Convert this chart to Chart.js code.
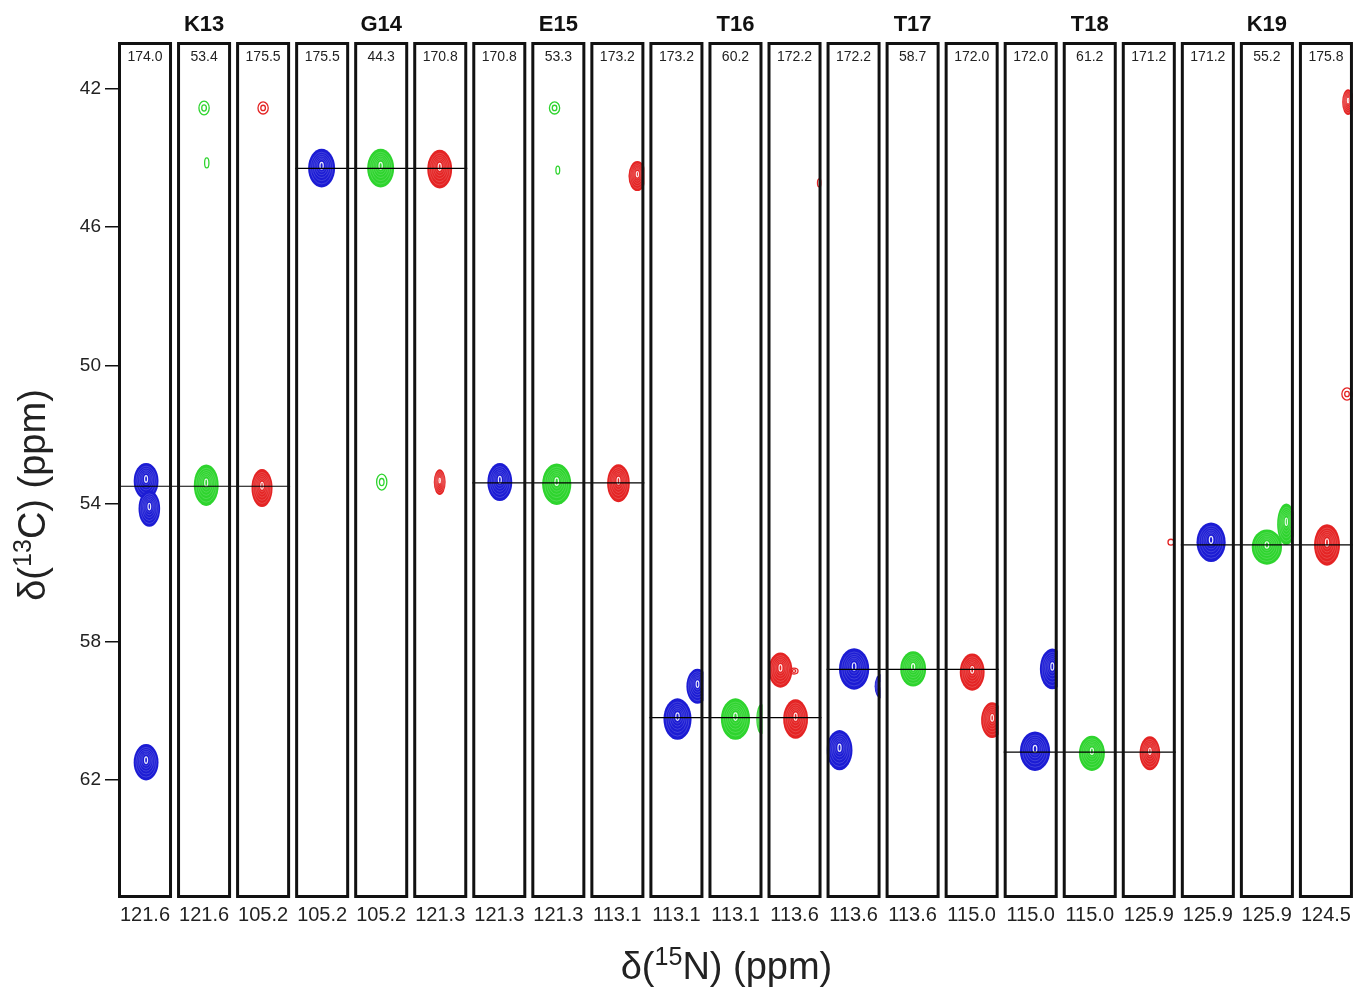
<!DOCTYPE html>
<html>
<head>
<meta charset="utf-8">
<script src="https://cdn.jsdelivr.net/npm/chart.js@4.4.0/dist/chart.umd.min.js"></script>
<style>
  body { margin: 0; background: #fff; }
  #wrap { width: 1356px; height: 990px; position: relative; }
</style>
</head>
<body>
<div id="wrap"><canvas id="strips"></canvas></div>
<script>
const residues = ['K13', 'G14', 'E15', 'T16', 'T17', 'T18', 'K19'];
const caLabels = ['174.0', '53.4', '175.5', '175.5', '44.3', '170.8', '170.8', '53.3', '173.2',
  '173.2', '60.2', '172.2', '172.2', '58.7', '172.0', '172.0', '61.2', '171.2', '171.2', '55.2', '175.8'];
const nLabels = ['121.6', '121.6', '105.2', '105.2', '105.2', '121.3', '121.3', '121.3', '113.1',
  '113.1', '113.1', '113.6', '113.6', '113.6', '115.0', '115.0', '115.0', '125.9', '125.9', '125.9', '124.5'];
const caLinePpm = [53.5, 44.3, 53.4, 60.2, 58.8, 61.2, 55.2];
const yTicks = [42, 46, 50, 54, 58, 62];

// peaks: [strip, position across strip 0-1, 13C ppm, width (strip fraction), height (ppm), weak]
const bluePeaks = [
  [0, 0.52, 53.35, 0.46, 1.05, 0],
  [0, 0.58, 54.15, 0.40, 1.05, 0],
  [0, 0.52, 61.49, 0.46, 1.05, 0],
  [3, 0.49, 44.29, 0.50, 1.12, 0],
  [6, 0.51, 53.38, 0.46, 1.10, 0],
  [9, 0.52, 60.24, 0.52, 1.20, 0],
  [9, 0.89, 59.29, 0.41, 1.02, 0],
  [12, 0.51, 58.79, 0.56, 1.20, 0],
  [12, 0.24, 61.14, 0.48, 1.16, 0],
  [12, 1.0, 59.29, 0.22, 0.70, 0],
  [15, 0.58, 61.17, 0.56, 1.14, 0],
  [15, 0.90, 58.79, 0.46, 1.18, 0],
  [18, 0.56, 55.12, 0.54, 1.14, 0]
];
const greenPeaks = [
  [1, 0.54, 53.47, 0.46, 1.20, 0],
  [1, 0.50, 42.55, 0.19, 0.40, 1],
  [1, 0.55, 44.14, 0.08, 0.29, 1],
  [4, 0.49, 44.29, 0.50, 1.12, 0],
  [4, 0.51, 53.38, 0.19, 0.46, 1],
  [7, 0.47, 53.44, 0.54, 1.20, 0],
  [7, 0.43, 42.55, 0.19, 0.35, 1],
  [7, 0.49, 44.35, 0.07, 0.23, 1],
  [10, 0.50, 60.24, 0.54, 1.20, 0],
  [10, 0.98, 60.24, 0.19, 0.87, 0],
  [13, 0.51, 58.79, 0.48, 1.02, 0],
  [16, 0.54, 61.23, 0.48, 1.02, 0],
  [19, 0.50, 55.26, 0.56, 1.02, 0],
  [19, 0.86, 54.60, 0.34, 1.20, 0]
];
const redPeaks = [
  [2, 0.48, 53.55, 0.39, 1.10, 0],
  [2, 0.50, 42.55, 0.19, 0.35, 1],
  [5, 0.49, 44.32, 0.46, 1.12, 0],
  [5, 0.49, 53.38, 0.22, 0.75, 0],
  [8, 0.52, 53.41, 0.42, 1.10, 0],
  [8, 0.87, 44.52, 0.33, 0.87, 0],
  [11, 0.24, 58.82, 0.44, 1.02, 0],
  [11, 0.49, 58.85, 0.15, 0.17, 1],
  [11, 0.52, 60.24, 0.46, 1.14, 0],
  [11, 0.96, 44.72, 0.07, 0.23, 1],
  [14, 0.51, 58.88, 0.46, 1.08, 0],
  [14, 0.88, 60.27, 0.41, 1.04, 0],
  [17, 0.52, 61.23, 0.38, 0.98, 0],
  [17, 0.91, 55.12, 0.11, 0.17, 1],
  [20, 0.52, 55.20, 0.48, 1.20, 0],
  [20, 0.91, 42.38, 0.22, 0.75, 0],
  [20, 0.89, 50.83, 0.19, 0.35, 1]
];

const BOX = 0.915; // strip box width in strip units, rest is the gap
const FONT = "'Liberation Sans', Arial, sans-serif";

const toPoints = (peaks) => peaks.map(p => ({
  x: p[0] + p[1] * BOX, y: p[2], strip: p[0], w: p[3], h: p[4], weak: p[5]
}));

let datasets = [];
caLinePpm.forEach((ppm, g) => {
  datasets.push({
    data: [{ x: g * 3, y: ppm }, { x: g * 3 + 2 + BOX, y: ppm }],
    showLine: true,
    borderColor: '#000',
    borderWidth: 1.2,
    pointRadius: 0
  });
});
[[bluePeaks, '#1c1cd4'], [greenPeaks, '#2ed42e'], [redPeaks, '#e42424']].forEach(([pk, col]) => {
  datasets.unshift({ data: toPoints(pk), peakColor: col, pointRadius: 0, pointHoverRadius: 0 });
});

function ell(ctx, x, y, rx, ry) {
  ctx.beginPath();
  ctx.ellipse(x, y, Math.max(rx, 0.5), Math.max(ry, 0.5), 0, 0, Math.PI * 2);
}

function drawPeak(ctx, x, y, rx, ry, color, weak) {
  if (weak) {
    ctx.strokeStyle = color;
    ctx.lineWidth = 1.3;
    ell(ctx, x, y, rx, ry); ctx.stroke();
    if (rx > 3) { ell(ctx, x, y, rx * 0.45, ry * 0.45); ctx.stroke(); }
    return;
  }
  ctx.fillStyle = color;
  ell(ctx, x, y, rx, ry); ctx.fill();
  ctx.strokeStyle = 'rgba(255,255,255,0.28)';
  ctx.lineWidth = 0.6;
  [0.82, 0.68, 0.55, 0.43, 0.32].forEach((s, k) => {
    ell(ctx, x, y - ry * 0.03 * k, rx * s, ry * s); ctx.stroke();
  });
  ctx.strokeStyle = 'rgba(255,255,255,0.9)';
  ctx.lineWidth = 1.2;
  ell(ctx, x, y - ry * 0.12, rx * 0.12, ry * 0.18); ctx.stroke();
}

function drawSupText(ctx, parts, size) {
  // parts: [text, superscript?]
  let total = 0;
  parts.forEach(([t, sup]) => {
    ctx.font = (sup ? size * 0.66 : size) + 'px ' + FONT;
    total += ctx.measureText(t).width;
  });
  let x = -total / 2;
  parts.forEach(([t, sup]) => {
    ctx.font = (sup ? size * 0.66 : size) + 'px ' + FONT;
    ctx.fillText(t, x, sup ? -size * 0.38 : 0);
    x += ctx.measureText(t).width;
  });
}

const stripPlugin = {
  id: 'strips',
  beforeDatasetsDraw(chart) {
    const ctx = chart.ctx;
    const xs = chart.scales.x, ys = chart.scales.y;
    const top = chart.chartArea.top, bottom = chart.chartArea.bottom;
    chart.data.datasets.forEach((ds, d) => {
      if (!ds.peakColor) return;
      const meta = chart.getDatasetMeta(d);
      meta.data.forEach((el, j) => {
        const p = ds.data[j];
        const left = xs.getPixelForValue(p.strip);
        const right = xs.getPixelForValue(p.strip + BOX);
        const rx = p.w * (right - left) / 2;
        const ry = Math.abs(ys.getPixelForValue(p.y + p.h / 2) - ys.getPixelForValue(p.y));
        ctx.save();
        ctx.beginPath();
        ctx.rect(left, top, right - left, bottom - top);
        ctx.clip();
        drawPeak(ctx, el.x, el.y, rx, ry, ds.peakColor, p.weak);
        ctx.restore();
      });
    });
  },
  afterDatasetsDraw(chart) {
    const ctx = chart.ctx;
    const xs = chart.scales.x;
    const top = chart.chartArea.top, bottom = chart.chartArea.bottom;
    ctx.save();
    ctx.strokeStyle = '#111';
    ctx.lineWidth = 3;
    for (let i = 0; i < caLabels.length; i++) {
      const l = xs.getPixelForValue(i), r = xs.getPixelForValue(i + BOX);
      ctx.strokeRect(l + 1.5, top + 1.5, r - l - 3, bottom - top - 3);
      ctx.fillStyle = '#222';
      ctx.font = '14px ' + FONT;
      ctx.textAlign = 'center';
      ctx.textBaseline = 'middle';
      ctx.fillText(caLabels[i], (l + r) / 2, top + 15);
    }
    ctx.font = 'bold 22px ' + FONT;
    ctx.fillStyle = '#111';
    residues.forEach((res, g) => {
      const c = xs.getPixelForValue(g * 3 + 1 + BOX / 2);
      ctx.fillText(res, c, top - 17);
    });
    // axis titles
    ctx.textAlign = 'left';
    ctx.textBaseline = 'alphabetic';
    ctx.fillStyle = '#222';
    ctx.save();
    ctx.translate((chart.chartArea.left + chart.chartArea.right) / 2 - 9, 979);
    drawSupText(ctx, [['δ(', 0], ['15', 1], ['N) (ppm)', 0]], 38);
    ctx.restore();
    ctx.save();
    ctx.translate(45, 495);
    ctx.rotate(-Math.PI / 2);
    drawSupText(ctx, [['δ(', 0], ['13', 1], ['C) (ppm)', 0]], 38);
    ctx.restore();
    ctx.restore();
  }
};

new Chart(document.getElementById('strips'), {
  type: 'scatter',
  data: { datasets: datasets },
  options: {
    responsive: true,
    maintainAspectRatio: false,
    animation: false,
    layout: { padding: { top: 42, right: 2, left: 0, bottom: 0 } },
    plugins: { legend: { display: false }, tooltip: { enabled: false } },
    scales: {
      x: {
        type: 'linear',
        min: 0,
        max: caLabels.length - 1 + BOX,
        afterBuildTicks: (s) => { s.ticks = caLabels.map((_, i) => ({ value: i + BOX / 2 })); },
        afterFit: (s) => { s.height = 92; },
        grid: { display: false, drawTicks: false },
        border: { display: false },
        ticks: {
          autoSkip: false,
          maxRotation: 0,
          padding: 5,
          color: '#222',
          font: { size: 20, family: FONT },
          callback: (v, i) => nLabels[i]
        }
      },
      y: {
        type: 'linear',
        reverse: true,
        min: 40.64,
        max: 65.42,
        afterBuildTicks: (s) => { s.ticks = yTicks.map(v => ({ value: v })); },
        afterFit: (s) => { s.width = 118; },
        grid: { drawOnChartArea: false, drawTicks: true, tickLength: 13, color: '#111', lineWidth: 1.5 },
        border: { display: false },
        ticks: {
          padding: 4,
          color: '#222',
          font: { size: 19, family: FONT },
          callback: (v) => v
        }
      }
    }
  },
  plugins: [stripPlugin]
});
</script>
</body>
</html>
